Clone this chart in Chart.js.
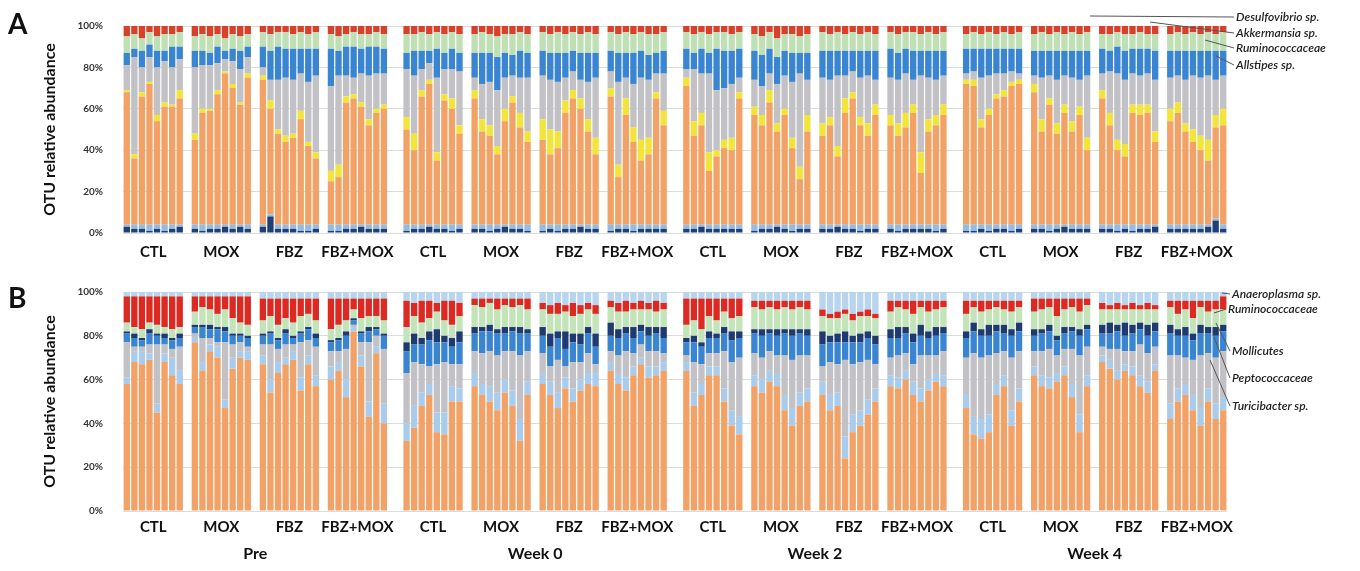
<!DOCTYPE html>
<html>
<head>
<meta charset="utf-8">
<script src="https://cdn.jsdelivr.net/npm/chart.js@4.4.1/dist/chart.umd.min.js"></script>
<style>
    html, body { margin: 0; padding: 0; background: #fff; }
    body { width: 1360px; height: 571px; position: relative; overflow: hidden; font-family: Lato, "Open Sans", sans-serif; }
    .wrap { position: absolute; left: 0; width: 1360px; }
    #wrapA { top: 0; height: 265px; }
    #wrapB { top: 265px; height: 306px; }
    .panel { position: absolute; left: 8px; font-weight: bold; font-size: 28px; color: #111; }
</style>
</head>
<body>
<div class="wrap" id="wrapA"><canvas id="chartA" width="1360" height="265"></canvas></div>
<div class="wrap" id="wrapB"><canvas id="chartB" width="1360" height="306"></canvas></div>
<div class="panel" style="top:6px">A</div>
<div class="panel" style="top:280px">B</div>

<script>
// --- layout of samples ---
const timepoints = ["Pre", "Week 0", "Week 2", "Week 4"];
const treatments = ["CTL", "MOX", "FBZ", "FBZ+MOX"];
const samplesPerGroup = 8;

// --- panel A (one value per sample, Pre | Week 0 | Week 2 | Week 4) ---
const aNavy = [
    3,2,2,1,2,1,2,3, 2,1,2,2,3,2,3,2, 3,8,2,2,2,1,1,2, 1,1,2,2,3,2,2,2,
    1,2,2,3,2,2,1,2, 2,2,1,2,3,2,2,1, 1,2,1,2,2,3,2,2, 1,2,2,1,2,2,2,2,
    2,2,3,2,2,2,2,2, 1,2,2,3,2,1,2,2, 2,2,3,2,2,1,2,2, 2,1,2,2,2,2,1,2,
    1,1,2,1,2,2,1,2, 2,2,1,2,3,2,2,2, 2,2,1,2,1,2,2,3, 2,2,2,2,2,3,6,2
];
const aLtBlue = [
    1,2,2,3,2,3,2,1, 2,3,2,2,1,2,1,2, 1,1,2,2,2,3,3,2, 3,3,2,2,1,2,2,2,
    3,2,2,1,2,2,3,2, 2,2,3,2,1,2,2,3, 3,2,3,2,2,1,2,2, 3,2,2,3,2,2,2,2,
    2,2,1,2,2,2,2,2, 3,2,2,1,2,3,2,2, 2,2,1,2,2,3,2,2, 2,3,2,2,2,2,3,2,
    3,3,2,3,2,2,3,2, 2,2,3,2,1,2,2,2, 2,2,3,2,3,2,2,1, 2,2,2,2,2,1,1,2
];
const aOrange = [
    64,32,62,68,50,57,57,61, 41,54,55,63,73,66,58,71, 70,51,44,40,42,51,38,32, 21,23,59,61,57,48,54,56,
    46,36,62,68,31,60,56,44, 61,45,43,34,50,59,47,40, 41,34,37,54,61,56,45,34, 62,23,53,40,31,34,61,48,
    67,43,48,26,33,37,36,61, 53,48,59,45,53,37,22,45, 43,48,33,54,61,48,43,53, 48,43,47,54,25,45,48,53,
    68,67,47,53,61,62,67,68, 64,45,58,44,54,45,53,36, 61,48,36,33,54,53,54,40, 50,54,45,40,36,31,44,48
];
const aYellow = [
    1,2,2,1,3,2,1,4, 3,2,1,2,1,2,1,2, 2,4,2,3,2,4,2,3, 5,6,3,2,2,3,2,2,
    6,8,3,2,4,3,5,4, 4,6,5,4,6,3,7,5, 10,12,8,6,4,5,6,8, 4,6,8,7,10,8,3,7,
    4,7,6,9,3,4,6,3, 4,5,6,4,3,5,6,8, 6,4,5,7,3,4,6,5, 5,6,7,4,10,6,5,5,
    2,3,4,3,2,3,2,2, 4,6,3,5,4,5,4,6, 4,6,5,6,4,5,4,5, 6,5,4,6,7,10,6,8
];
const aGrey = [
    12,47,12,12,23,20,18,15, 32,21,21,13,6,11,16,8, 4,10,24,28,26,18,29,37, 41,43,10,8,14,21,17,15,
    23,28,10,8,36,12,14,26, 6,17,21,27,15,10,17,26, 21,24,24,11,9,9,18,29, 8,40,10,21,30,28,9,18,
    4,25,19,38,29,25,26,7, 13,14,8,19,16,27,45,17, 22,18,34,11,10,19,23,12, 18,21,19,12,37,20,17,14,
    3,4,20,16,10,8,5,3, 4,20,11,21,14,21,13,30, 8,20,32,31,15,14,15,25, 15,13,21,26,28,31,17,16
];
const aBlue = [
    6,4,8,6,8,5,10,6, 8,7,6,8,4,6,9,5, 10,14,16,14,15,12,16,13, 18,12,14,15,12,14,13,12,
    8,12,9,6,14,8,10,9, 12,15,14,16,12,10,13,12, 12,13,14,12,10,13,14,12, 10,14,12,15,13,12,10,11,
    10,8,12,10,20,18,16,14, 14,15,12,13,12,14,10,13, 13,14,12,12,10,13,12,14, 14,13,12,14,12,13,14,12,
    12,11,14,13,12,12,11,12, 12,13,12,14,12,13,14,12, 12,10,13,14,12,13,12,14, 13,12,14,12,13,12,14,12
];
const aGreen = [
    8,7,6,6,7,8,6,7, 7,8,8,6,6,7,7,6, 7,8,7,8,7,8,7,8, 7,7,6,7,7,6,7,7,
    9,8,9,8,8,9,8,9, 9,10,9,10,9,10,9,9, 9,9,10,9,9,9,10,9, 9,9,10,9,9,10,9,9,
    8,9,8,9,8,9,8,8, 8,9,8,9,8,9,8,9, 9,8,9,8,9,8,9,8, 8,9,8,9,8,9,8,9,
    7,8,7,8,7,8,7,8, 8,9,8,9,8,9,8,9, 7,8,7,8,7,8,7,8, 8,9,8,9,8,9,8,9
];
const aRed = [
    5,4,6,3,5,4,4,3, 5,4,5,4,6,4,5,4, 3,4,3,3,4,3,4,3, 4,5,4,3,4,4,3,4,
    4,4,3,4,3,4,3,4, 4,3,4,5,4,4,3,4, 3,4,3,4,3,4,3,4, 3,4,3,4,3,4,4,3,
    3,4,3,4,3,3,4,3, 4,5,3,6,4,4,5,4, 3,4,3,4,3,4,3,4, 3,4,3,3,4,3,4,3,
    4,3,4,3,4,3,4,3, 4,3,4,3,4,3,4,3, 4,4,3,4,4,3,4,4, 4,3,4,3,4,3,4,3
];

// --- panel B ---
const bOrange = [
    58,68,67,69,45,68,62,58, 77,64,73,70,47,65,70,69, 67,54,63,67,69,55,67,57, 60,64,52,82,66,43,72,40,
    32,38,48,53,36,35,50,50, 57,53,50,46,54,48,32,53, 58,53,47,56,50,55,58,57, 64,58,55,62,67,61,62,64,
    64,48,53,62,62,50,39,35, 57,54,59,57,46,39,48,50, 53,46,48,24,36,39,44,50, 57,56,60,53,50,55,59,57,
    47,35,33,36,53,57,39,50, 62,57,56,59,62,52,36,57, 68,65,60,64,62,57,54,64, 42,50,53,46,39,50,42,46
];
const bLtBlue = [
    3,5,6,3,4,4,8,6, 2,4,3,5,4,5,3,4, 4,6,5,3,4,6,4,5, 6,4,8,2,5,7,3,9,
    8,10,6,5,9,10,7,6, 6,5,7,8,6,7,10,6, 5,6,7,5,6,5,5,6, 4,5,6,4,3,5,4,4,
    4,6,5,4,4,6,7,8, 5,6,5,6,7,8,6,6, 6,7,6,10,8,7,7,6, 5,5,4,6,6,5,4,5,
    6,8,9,8,5,5,7,6, 4,5,5,4,4,6,8,5, 3,4,4,3,4,5,5,3, 7,6,5,7,8,6,7,6
];
const bGrey = [
    16,2,2,4,27,4,4,11, 2,11,3,2,26,6,4,2, 5,16,6,6,3,16,7,13, 7,5,14,1,6,27,5,25,
    23,20,13,8,22,23,10,11, 10,14,16,17,13,18,29,14, 9,7,15,5,12,8,9,4, 5,8,12,6,6,7,7,4,
    3,14,9,6,6,17,22,27, 10,10,9,8,18,22,17,15, 7,15,13,35,23,22,18,11, 8,10,8,8,15,11,8,11,
    17,29,28,27,14,11,24,17, 7,11,13,8,8,16,27,13, 4,5,10,6,7,14,13,8, 22,15,12,16,24,16,21,21
];
const bBlue = [
    4,4,3,5,4,3,4,4, 3,5,4,6,5,4,3,4, 4,5,4,5,3,4,5,4, 4,5,6,2,4,5,3,6,
    10,8,9,12,10,9,8,10, 8,10,9,10,8,9,10,8, 8,9,10,8,9,8,9,8, 7,8,8,7,6,7,8,7,
    6,9,8,7,7,8,10,9, 9,10,8,9,10,11,10,9, 10,9,10,8,10,9,10,9, 9,8,9,10,9,8,9,8,
    9,10,10,9,10,8,10,9, 7,8,8,7,7,8,9,8, 6,7,8,7,8,7,8,7, 10,9,10,9,10,9,10,9
];
const bNavy = [
    1,2,1,2,1,2,1,2, 1,1,2,1,2,1,1,1, 1,1,1,2,1,1,1,2, 1,1,2,1,1,2,1,1,
    4,5,3,4,6,3,4,5, 3,2,3,2,3,2,3,2, 4,6,3,8,4,5,3,6, 6,4,3,5,3,4,3,5,
    2,3,2,3,2,3,4,3, 2,3,2,3,2,3,2,3, 6,3,4,5,3,4,3,4, 4,5,3,4,5,3,4,3,
    3,4,3,5,3,4,3,4, 3,2,3,2,3,2,3,2, 4,5,3,6,4,3,5,4, 4,3,4,3,4,3,4,3
];
const bGreen = [
    4,3,4,3,4,3,4,3, 6,8,7,6,8,7,5,5, 6,7,6,5,6,7,6,6, 5,6,5,4,6,5,5,6,
    7,8,7,6,8,7,6,7, 10,9,10,9,10,9,10,9, 8,9,8,9,8,9,8,9, 7,8,7,8,7,8,7,8,
    6,7,6,7,6,7,6,7, 10,9,10,9,10,9,10,9, 7,8,7,8,7,8,7,8, 8,9,8,9,8,9,8,9,
    8,7,8,7,8,7,8,7, 8,9,8,9,8,9,8,9, 7,6,7,6,7,6,7,6, 8,7,8,7,8,7,8,7
];
const bRed = [
    12,14,15,12,13,14,15,14, 7,5,6,8,6,10,12,13, 10,8,12,9,11,8,7,10, 14,12,10,5,9,8,8,10,
    12,6,10,8,4,9,11,6, 3,4,2,5,3,4,3,5, 3,4,5,3,6,4,3,4, 3,4,5,3,4,3,5,3,
    12,10,14,8,10,6,9,8, 3,4,3,4,3,4,3,4, 3,2,3,2,3,2,3,2, 5,3,4,6,3,5,4,3,
    6,3,5,4,3,4,5,3, 6,5,4,8,5,4,6,3, 3,2,3,2,3,2,3,2, 3,6,4,8,3,5,4,6
];
const bSky = [
    2,2,2,2,2,2,2,2, 2,2,2,2,2,2,2,2, 3,3,3,3,3,3,3,3, 3,3,3,3,3,3,3,3,
    4,5,4,4,5,4,4,5, 3,3,3,3,3,3,3,3, 5,6,5,6,5,6,5,6, 4,5,4,5,4,5,4,5,
    3,3,3,3,3,3,3,3, 4,4,4,4,4,4,4,4, 8,10,9,8,10,9,8,10, 4,4,4,4,4,4,4,4,
    4,4,4,4,4,4,4,4, 3,3,3,3,3,3,3,3, 5,6,5,6,5,6,5,6, 4,4,4,4,4,4,4,4
];

// подписи справа
const taxaA = ["Desulfovibrio sp.", "Akkermansia sp.", "Ruminococcaceae", "Allstipes sp."];
const taxaB = ["Anaeroplasma sp.", "Ruminococcaceae", "Mollicutes", "Peptococcaceae", "Turicibacter sp."];

// --- category slots with empty spacers between groups ---
const labels = [];
const slotOfBar = [];
const groupSpans = [];
const timeSpans = [];

timepoints.forEach((tp, t) => {
    const tStart = labels.length;
    treatments.forEach((trt, g) => {
        groupSpans.push({ name: trt, first: labels.length, last: labels.length + samplesPerGroup - 1 });
        for (let i = 0; i < samplesPerGroup; i++) {
            slotOfBar.push(labels.length);
            labels.push(tp + " " + trt + " #" + (i + 1));
        }
        if (g < treatments.length - 1) labels.push("");
    });
    timeSpans.push({ name: tp, first: tStart, last: labels.length - 1 });
    if (t < timepoints.length - 1) {
        labels.push("");
        labels.push("");
    }
});

function toSlots(values) {
    const out = new Array(labels.length).fill(null);
    values.forEach((v, i) => { out[slotOfBar[i]] = v; });
    return out;
}

const groupLabelPlugin = {
    id: "groupLabels",
    afterDraw(chart, args, opts) {
        const { ctx, chartArea } = chart;
        const x = chart.scales.x;
        const mid = s => (x.getPixelForValue(s.first) + x.getPixelForValue(s.last)) / 2;
        ctx.save();
        ctx.fillStyle = "#111";
        ctx.textAlign = "center";
        ctx.textBaseline = "middle";
        ctx.font = "bold 15px Lato";
        groupSpans.forEach(s => ctx.fillText(s.name, mid(s), chartArea.bottom + opts.groupOffset));
        if (opts.timeOffset) {
            ctx.font = "bold 16px Lato";
            timeSpans.forEach(s => ctx.fillText(s.name, mid(s), chartArea.bottom + opts.timeOffset));
        }

        // taxa notes with leader lines
        ctx.font = "italic 600 12px Lato";
        ctx.textAlign = "left";
        ctx.strokeStyle = "#555";
        ctx.lineWidth = 1;
        opts.notes.forEach(n => {
            ctx.beginPath();
            ctx.moveTo(n.from[0], n.from[1]);
            ctx.lineTo(n.at[0] - 2, n.at[1]);
            ctx.stroke();
            ctx.fillStyle = "#222";
            ctx.fillText(n.text, n.at[0], n.at[1]);
        });
        ctx.restore();
    }
};

function makePanel(canvasId, series, padding, plugOpts) {
    const datasets = series.map(s => ({
        label: s.label,
        data: toSlots(s.data),
        backgroundColor: s.color,
        borderWidth: 0,
        barPercentage: 0.84,
        categoryPercentage: 1.0
    }));

    return new Chart(document.getElementById(canvasId).getContext("2d"), {
        type: "bar",
        data: { labels, datasets },
        options: {
            responsive: false,
            animation: false,
            layout: { padding },
            plugins: {
                legend: { display: false },
                tooltip: { enabled: false },
                groupLabels: plugOpts
            },
            scales: {
                x: { stacked: true, display: false },
                y: {
                    stacked: true,
                    min: 0,
                    max: 100,
                    border: { display: false },
                    grid: { color: "#dcdcdc", drawTicks: false },
                    ticks: {
                        stepSize: 20,
                        padding: 20,
                        color: "#333",
                        font: { family: "Lato", weight: "bold", size: 10 },
                        callback: v => v + "%"
                    },
                    title: {
                        display: true,
                        text: "OTU relative abundance",
                        color: "#111",
                        font: { family: "Lato", weight: "bold", size: 16 },
                        padding: { top: 0, bottom: 0 }
                    },
                    afterFit: scale => { scale.width = 83; }
                }
            }
        },
        plugins: [groupLabelPlugin]
    });
}

makePanel("chartA", [
    { label: "navy", data: aNavy, color: "#203f78" },
    { label: "light blue", data: aLtBlue, color: "#8fbde8" },
    { label: "orange", data: aOrange, color: "#f2a266" },
    { label: "yellow", data: aYellow, color: "#f2e43a" },
    { label: "grey", data: aGrey, color: "#c2c2c6" },
    { label: "blue", data: aBlue, color: "#3a85d2" },
    { label: "green", data: aGreen, color: "#bfe0b4" },
    { label: "red", data: aRed, color: "#d8402a" }
], { left: 40, right: 133, top: 17, bottom: 32 }, {
    groupOffset: 19,
    notes: [
        { text: taxaA[0], at: [1236, 17], from: [1090, 16] },
        { text: taxaA[1], at: [1236, 33], from: [1150, 22] },
        { text: taxaA[2], at: [1236, 48], from: [1205, 40] },
        { text: taxaA[3], at: [1236, 65], from: [1216, 56] }
    ]
});

makePanel("chartB", [
    { label: "orange", data: bOrange, color: "#f2a266" },
    { label: "light blue", data: bLtBlue, color: "#a9cbec" },
    { label: "grey", data: bGrey, color: "#c2c2c6" },
    { label: "blue", data: bBlue, color: "#3a85d2" },
    { label: "navy", data: bNavy, color: "#1f3a70" },
    { label: "green", data: bGreen, color: "#c3e3b8" },
    { label: "red", data: bRed, color: "#dc2a22" },
    { label: "sky", data: bSky, color: "#b7d5ee" }
], { left: 40, right: 133, top: 27, bottom: 60 }, {
    groupOffset: 16,
    timeOffset: 43,
    notes: [
        { text: taxaB[0], at: [1232, 29], from: [1222, 28] },
        { text: taxaB[1], at: [1228, 44], from: [1214, 48] },
        { text: taxaB[2], at: [1232, 86], from: [1216, 58] },
        { text: taxaB[3], at: [1232, 113], from: [1214, 72] },
        { text: taxaB[4], at: [1232, 141], from: [1210, 95] }
    ]
});
</script>
</body>
</html>
